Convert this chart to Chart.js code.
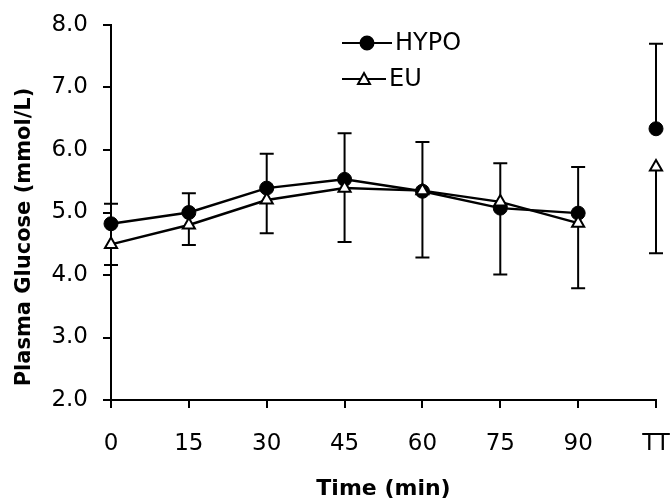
<!DOCTYPE html>
<html>
<head>
<meta charset="utf-8">
<script src="https://cdn.jsdelivr.net/npm/chart.js@4/dist/chart.umd.min.js"></script>
<style>
  html, body { margin: 0; padding: 0; background: #fff; }
  #wrap { width: 670px; height: 502px; position: relative; }
</style>
</head>
<body>
<div id="wrap"><canvas id="chart"></canvas></div>
<script>
// data
const timeLabels = ["0", "15", "30", "45", "60", "75", "90", "TT"];
const hypoMean = [4.82, 5.0, 5.39, 5.53, 5.34, 5.07, 4.99, 6.34];
const hypoSD   = [0.32, 0.31, 0.55, 0.74, 0.79, 0.72, 0.74, 1.36];
const euMean   = [4.49, 4.80, 5.20, 5.39, 5.35, 5.17, 4.83, 5.73];
const euSD     = [0.33, 0.32, 0.53, 0.86, 1.07, 1.16, 1.04, 1.38];
const yTicks   = [2, 3, 4, 5, 6, 7, 8];
const yTitle = "Plasma Glucose (mmol/L)";

const FONT = "'DejaVu Sans', Arial, sans-serif";
const INK = "#000";

// one-sided error bars: HYPO up, EU down
const errorBars = {
  id: "errorBars",
  beforeDatasetsDraw(chart){
    const { ctx, scales: { x, y } } = chart;
    ctx.save();
    ctx.strokeStyle = INK;
    ctx.lineWidth = 2;
    const cap = 7;
    const bar = (i, from, to) => {
      const px = x.getPixelForValue(i);
      const y0 = y.getPixelForValue(from), y1 = y.getPixelForValue(to);
      ctx.beginPath();
      ctx.moveTo(px, y0); ctx.lineTo(px, y1);
      ctx.moveTo(px - cap, y1); ctx.lineTo(px + cap, y1);
      ctx.stroke();
    };
    timeLabels.forEach((_, i) => {
      bar(i, hypoMean[i], hypoMean[i] + hypoSD[i]);
      bar(i, euMean[i], euMean[i] - euSD[i]);
    });
    ctx.restore();
  }
};

// legend (line + marker + label) and the y title, which sits a bit below the axis middle
const extras = {
  id: "extras",
  afterDraw(chart){
    const { ctx } = chart;
    const items = [
      { text: "HYPO", y: 43, x1: 392, style: "circle", fill: INK },
      { text: "EU", y: 79, x1: 386, style: "triangle", fill: "#fff" }
    ];
    ctx.save();
    for(const it of items){
      ctx.strokeStyle = INK; ctx.lineWidth = 2;
      ctx.beginPath(); ctx.moveTo(342, it.y); ctx.lineTo(it.x1, it.y); ctx.stroke();
      ctx.fillStyle = it.fill;
      ctx.beginPath();
      if(it.style === "circle"){
        ctx.arc(367, it.y, 6.5, 0, Math.PI * 2);
      } else {
        ctx.moveTo(364, it.y - 6); ctx.lineTo(370, it.y + 5); ctx.lineTo(358, it.y + 5); ctx.closePath();
      }
      ctx.fill(); ctx.stroke();
      ctx.fillStyle = INK;
      ctx.font = `24px ${FONT}`;
      ctx.textBaseline = "middle";
      ctx.fillText(it.text, it.x1 + 3, it.y + 1);
    }
    ctx.translate(25, 237);
    ctx.rotate(-Math.PI / 2);
    ctx.font = `bold 21px ${FONT}`;
    ctx.textAlign = "center";
    ctx.textBaseline = "middle";
    ctx.fillText(yTitle, 0, 0);
    ctx.restore();
  }
};

const gapBeforeTT = ctx => ctx.p1DataIndex === timeLabels.length - 1 ? "rgba(0,0,0,0)" : INK;

new Chart(document.getElementById("chart"), {
  type: "line",
  data: {
    labels: timeLabels,
    datasets: [
      {
        label: "EU", data: euMean,
        borderColor: INK, borderWidth: 2.5,
        pointStyle: "triangle", pointRadius: 7,
        pointBackgroundColor: "#fff", pointBorderColor: INK, pointBorderWidth: 2,
        segment: { borderColor: gapBeforeTT }
      },
      {
        label: "HYPO", data: hypoMean,
        borderColor: INK, borderWidth: 2.5,
        pointStyle: "circle", pointRadius: 7,
        pointBackgroundColor: INK, pointBorderColor: INK, pointBorderWidth: 1,
        segment: { borderColor: gapBeforeTT }
      }
    ]
  },
  options: {
    responsive: true,
    maintainAspectRatio: false,
    animation: false,
    layout: { padding: { top: 25, right: 14, left: 52, bottom: 0 } },
    plugins: { legend: { display: false }, tooltip: { enabled: false } },
    scales: {
      x: {
        offset: false,
        border: { color: INK, width: 2 },
        grid: { drawOnChartArea: false, color: INK, lineWidth: 2, tickLength: 8 },
        ticks: { color: INK, font: { family: FONT, size: 23 }, padding: 22, maxRotation: 0 },
        title: { display: true, text: "Time (min)", color: INK, font: { family: FONT, size: 22, weight: "bold" }, padding: { top: 19, bottom: 0 } },
        afterFit: axis => { axis.height = 102; axis.paddingLeft = 0; axis.paddingRight = 0; }
      },
      y: {
        min: 2, max: 8,
        border: { color: INK, width: 2 },
        grid: { drawOnChartArea: false, color: INK, lineWidth: 2, tickLength: 8 },
        afterBuildTicks: axis => { axis.ticks = yTicks.map(v => ({ value: v })); },
        ticks: { color: INK, font: { family: FONT, size: 23 }, padding: 15, callback: v => Number(v).toFixed(1) },
        afterFit: axis => { axis.width = 59; axis.paddingTop = 0; axis.paddingBottom = 0; }
      }
    }
  },
  plugins: [errorBars, extras]
});
</script>
</body>
</html>
